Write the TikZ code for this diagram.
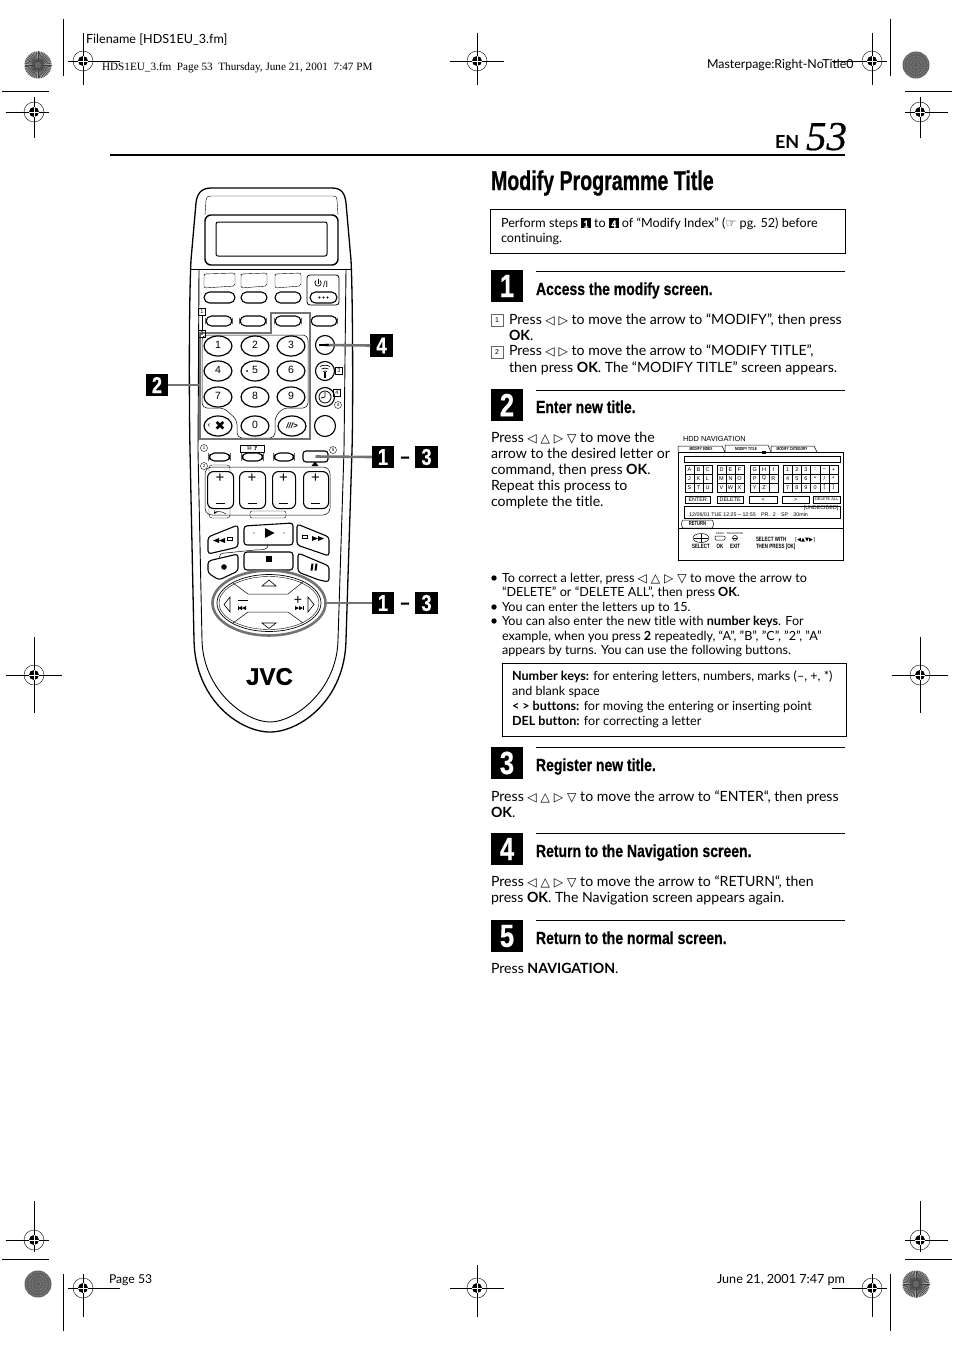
\documentclass[tikz,border=0pt]{standalone}
\usepackage{fontspec}
\usetikzlibrary{shapes.geometric,calc}
\setmainfont[Ligatures={NoCommon}]{Lato}
\newfontfamily\symf{DejaVu Sans}
\newfontfamily\helv{Liberation Sans}
\newfontfamily\timesf{Liberation Serif}
\newfontfamily\headf[FakeStretch=0.8,FakeBold=0.5]{Liberation Sans Bold}
\newfontfamily\titlef[FakeStretch=0.72,FakeBold=0.7]{Liberation Sans Bold}
\newfontfamily\smallhead[FakeStretch=0.72]{Liberation Sans Bold}
\newfontfamily\numf[FakeStretch=0.8,FakeBold=0.5]{Liberation Sans Bold}
\newfontfamily\bigit[FakeBold=0.5]{Liberation Serif Italic}
\newfontfamily\jvcf[FakeBold=0.8]{Liberation Sans Bold}
\newcounter{tc}
\newcommand{\fs}[1]{\fontsize{#1}{#1}\selectfont}
\newcommand{\T}[4][]{\stepcounter{tc}\node[txt,#1] (t\arabic{tc}) at (#2,#3) {#4};}
\newcommand{\sy}[1]{{\symf\fs{12.2}#1}}
\newcommand{\inv}[1]{\raisebox{-.6pt}{\fboxsep=0pt\colorbox{black}{\makebox[9.6pt]{\rule{0pt}{9.6pt}\textcolor{white}{\numf\fs{10}#1}}}}}
\newcommand{\regm}[7]{% x y hl hr vt vb
 \draw[thinl] (#1-#3,#2) -- (#1+#4,#2);
 \draw[thinl] (#1,#2-#5) -- (#1,#2+#6);
 \draw[line width=.4pt] (#1,#2) circle (10);
 \fill (#1,#2) circle (5);
 \draw[white,line width=.8pt] (#1-5,#2) -- (#1+5,#2) (#1,#2-5) -- (#1,#2+5);}
\newcommand{\burst}[2]{\fill[black!35] (#1,#2) circle (13.5);
 \foreach \a in {0,7.5,...,352.5}{\draw[line width=.55pt,black!75] ($(#1,#2)+(\a:3)$) -- ($(#1,#2)+(\a:13.5)$);}
 \fill[black!60] (#1,#2) circle (3);}
\newcommand{\dark}[2]{\fill[black!62] (#1,#2) circle (13.5);
 \foreach \r in {3,6,9,12}{\draw[black!45,line width=.7pt,dash pattern=on 1pt off 1.2pt] (#1,#2) circle (\r);}}
\tikzset{
 txt/.style={anchor=base west,inner sep=0,outer sep=0,font=\fs{12.6}},
 bd/.style={font=\fs{14.1}},
 thinl/.style={line width=.7pt},
 rem/.style={line width=.9pt},
 pill/.style={draw,line width=1.1pt,rounded corners=5.5pt,inner sep=0,outer sep=0},
 numpill/.style={draw,line width=1.2pt,ellipse,minimum width=28,minimum height=20,inner sep=0},
 numlab/.style={inner sep=0,font=\helv\fs{10.5}},
 roundb/.style={draw,line width=1.1pt,circle,minimum size=19,inner sep=0},
 graybar/.style={draw=black!55,line width=2.6pt},
 badge/.style={fill=black,text=white,inner sep=0,outer sep=0,minimum width=22.5,minimum height=22.5,font=\numf\fs{23}},
 bigbadge/.style={fill=black,text=white,inner sep=0,outer sep=0,minimum width=32,minimum height=32,font=\numf\fs{32}},
 head/.style={txt,font=\headf\fs{17.5}},
 rulel/.style={line width=.8pt},
 keyb/.style={draw,line width=.45pt,inner sep=0,minimum height=7},
 gc/.style={inner sep=0,font=\helv\fs{5.5}},
 sq/.style={draw,line width=.5pt,minimum size=7,inner sep=0,font=\helv\fs{5.5}},
 sqb/.style={draw=black!60,line width=.5pt,minimum size=11.5,inner sep=0,font=\helv\fs{7}},
 cir/.style={draw,line width=.4pt,circle,minimum size=7,inner sep=0,font=\helv\fs{4.5}},
}
\begin{document}
\begin{tikzpicture}[x=1pt,y=-1pt]
\useasboundingbox (0,0) rectangle (954,1351);
\fill[white] (0,0) rectangle (954,1351);

% --- printing marks ---
\burst{38}{65}\dark{916}{65}\dark{38}{1284}\burst{916}{1284}
\regm{83}{61}{15}{37}{28}{24}{}
\regm{477}{61}{27}{27}{28}{24}{}
\regm{872}{61}{40}{15}{28}{24}{}
\regm{34}{112}{28}{15}{15}{26}{}
\regm{920}{112}{15}{28}{15}{26}{}
\regm{34}{675}{28}{28}{38}{38}{}
\regm{920}{675}{28}{28}{38}{38}{}
\regm{34}{1240}{28}{15}{39}{12}{}
\regm{920}{1240}{15}{28}{39}{12}{}
\regm{83}{1288}{15}{37}{14}{29}{}
\regm{477}{1288}{27}{27}{23}{29}{}
\regm{872}{1288}{40}{15}{14}{29}{}
\draw[thinl] (63,19) -- (63,76) (890,19) -- (890,76) (63,1274) -- (63,1331) (890,1274) -- (890,1331);
\draw[thinl] (2,91) -- (49,91) (905,91) -- (952,91) (2,1259) -- (49,1259) (905,1259) -- (952,1259);

% --- header and footer ---
\T[font=\fs{12.6}]{86}{44}{Filename [HDS1EU\_3.fm]}
\T[font=\timesf\fs{11.2}]{102}{71}{HDS1EU\_3.fm\ \ Page 53\ \ Thursday, June 21, 2001\ \ 7:47 PM}
\T[font=\fs{12.4}]{707}{69}{Masterpage:Right-NoTitle0}
\T[font=\fs{12.2}]{109}{1283}{Page 53}
\T[font=\fs{12.6},anchor=base east]{845}{1283}{June 21, 2001 7:47 pm}
\draw[line width=2.8pt] (110,155) -- (845,155);
\T[font=\fs{18}\bfseries]{775}{149}{EN}
\T[font=\bigit\fs{41}]{806}{150}{53}
\T[font=\titlef\fs{27.2}]{491}{190}{Modify Programme Title}

% --- intro box ---
\node[draw,line width=.8pt,minimum width=355,minimum height=44,inner sep=0] (intro) at (667.5,231) {};
\T{501}{227}{Perform steps \inv{1} to \inv{4} of “Modify Index” (\sy{☞} pg. 52) before}
\T{501}{242}{continuing.}

% --- section 1 ---
\node[bigbadge] (s1) at (507,286) {1};
\draw[rulel] (536,271) -- (845,271);
\T[head]{536}{295}{Access the modify screen.}
\node[sqb] (n1) at (497,320) {1};
\T[bd]{509}{324}{Press \sy{◁ ▷} to move the arrow to “MODIFY”, then press}
\T[bd]{509}{340}{\textbf{OK}.}
\node[sqb] (n2) at (497,352) {2};
\T[bd]{509}{355}{Press \sy{◁ ▷} to move the arrow to “MODIFY TITLE”,}
\T[bd]{509}{372}{then press \textbf{OK}. The “MODIFY TITLE” screen appears.}

% --- section 2 ---
\node[bigbadge] (s2) at (507,405) {2};
\draw[rulel] (536,390) -- (845,390);
\T[head]{536}{413}{Enter new title.}
\T[bd]{491}{442}{Press \sy{◁ △ ▷ ▽} to move the}
\T[bd]{491}{458}{arrow to the desired letter or}
\T[bd]{491}{474}{command, then press \textbf{OK}.}
\T[bd]{491}{490}{Repeat this process to}
\T[bd]{491}{506}{complete the title.}

% --- screen ---
\T[font=\helv\fs{7.4}]{683}{441}{HDD NAVIGATION}
\draw[line width=.5pt] (678,452) -- (678,446) -- (722,446) -- (725,452);
\draw[line width=.5pt] (725,452) -- (725,445) -- (768,445) -- (771,452);
\draw[line width=.5pt] (771,452) -- (771,446) -- (814,446) -- (817,452);
\node[gc,font=\smallhead\fs{4.4}] (tab1) at (701,449) {MODIFY INDEX};
\node[gc,font=\smallhead\fs{4.4}] (tab2) at (746,449) {MODIFY TITLE};
\node[gc,font=\smallhead\fs{4.4}] (tab3) at (792,449) {MODIFY CATEGORY};
\fill (762,451) -- (766,451) -- (766,454) -- (762,454) -- cycle;
\draw[line width=.6pt] (678,452) rectangle (843,560);
\draw[line width=.6pt] (678,528) -- (843,528);
\draw[line width=.5pt] (684,456) rectangle (840,462);
\foreach \gx/\gw in {685/27,717/27,750/28,783/55}{\draw[line width=.5pt] (\gx,465) rectangle (\gx+\gw,492);}
\foreach \gx/\n in {685/3,717/3,750/3,783/6}{
 \pgfmathsetmacro\st{(\gx==783)?55/6:(\gx==750?28/3:9)}
 \foreach \k in {1,...,5}{\pgfmathparse{\k<\n?1:0}\ifnum\pgfmathresult=1\draw[line width=.35pt] ({\gx+\k*\st},465) -- ({\gx+\k*\st},492);\fi}
 \draw[line width=.35pt] (\gx,474) -- ({\gx+\n*\st},474) (\gx,483) -- ({\gx+\n*\st},483);}
\foreach \c [count=\i] in {A,B,C,J,K,L,S,T,U}{\pgfmathtruncatemacro\cx{mod(\i-1,3)}\pgfmathtruncatemacro\cy{(\i-1)/3}
 \node[gc] (ga\i) at ({689.5+\cx*9},{469.5+\cy*9}) {\c};}
\foreach \c [count=\i] in {D,E,F,M,N,O,V,W,X}{\pgfmathtruncatemacro\cx{mod(\i-1,3)}\pgfmathtruncatemacro\cy{(\i-1)/3}
 \node[gc] (gb\i) at ({721.5+\cx*9},{469.5+\cy*9}) {\c};}
\foreach \c [count=\i] in {G,H,I,P,Q,R,Y,Z,{}}{\pgfmathtruncatemacro\cx{mod(\i-1,3)}\pgfmathtruncatemacro\cy{(\i-1)/3}
 \node[gc] (gc\i) at ({754.7+\cx*9.33},{469.5+\cy*9}) {\c};}
\foreach \c [count=\i] in {1,2,3,:,–,+,4,5,6,•,/,*,7,8,9,0,[,]}{\pgfmathtruncatemacro\cx{mod(\i-1,6)}\pgfmathtruncatemacro\cy{(\i-1)/6}
 \node[gc] (gd\i) at ({787.6+\cx*9.17},{469.5+\cy*9}) {\c};}
\foreach \xa/\xb/\lab/\nm/\sz in {685/710/ENTER/ka/5.4,717/743/DELETE/kb/5.4,749/777/<{}/kc/5.4,782/809/>{}/kd/5.4,813/840/DELETE ALL/ke/3.9}{
 \node[keyb,minimum width=\xb-\xa,anchor=west,font=\helv\fs{\sz}] (\nm) at (\xa,499.5) {\lab};}
\draw[line width=.5pt] (684,506) rectangle (840,518);
\node[gc,anchor=east,font=\helv\fs{5.3}] (und) at (838.5,508.5) {[UNDECIDED]};
\node[gc,anchor=west,font=\helv\fs{5.3}] (inf) at (689,515) {12/06/01 TUE 12:25 – 12:55\quad PR.\ \ 2\quad SP\quad 30min};
\draw[line width=.5pt] (683,520) .. controls (681,522) and (681,526) .. (683,528) -- (712,528) .. controls (714,526) and (714,522) .. (712,520) -- cycle;
\node[gc,font=\smallhead\fs{5.8}] (ret) at (697.5,524) {RETURN};
\node[draw,ellipse,line width=.5pt,minimum width=16,minimum height=9,inner sep=0] (sel) at (701,538) {};
\draw[line width=.5pt] (694,538) -- (708,538) (701,534) -- (701,542);
\node[gc,font=\smallhead\fs{6.2}] (sel2) at (701,546) {SELECT};
\node[draw,rounded corners=1pt,line width=.5pt,minimum width=10,minimum height=4,inner sep=0] (okb) at (720,538) {};
\node[gc,font=\helv\fs{2.7}] (okl) at (720,534) {INDEX};
\node[gc,font=\helv\fs{2.7}] (exl) at (735,534) {NAVIGATION};
\node[gc,font=\smallhead\fs{6.2}] (ok2) at (720,546) {OK};
\node[draw,circle,line width=.5pt,minimum size=5,inner sep=0] (exb) at (735,538) {};
\draw[line width=.5pt] (733,538) -- (737,538);
\node[gc,font=\smallhead\fs{6.2}] (ex2) at (735,546) {EXIT};
\T[font=\smallhead\fs{6.2}]{756}{541}{SELECT WITH}
\T[font=\smallhead\fs{6.2}]{756}{548}{THEN PRESS [OK]}
\T[font=\symf\fs{5.2}]{795}{541}{[◀▲▼▶]}

% --- bullets ---
\foreach \by in {582,611,625}{\fill (494,\by-4) circle (2.7);}
\T{502}{582}{To correct a letter, press \sy{◁ △ ▷ ▽} to move the arrow to}
\T{502}{596}{“DELETE” or “DELETE ALL”, then press \textbf{OK}.}
\T{502}{611}{You can enter the letters up to 15.}
\T{502}{625}{You can also enter the new title with \textbf{number keys}. For}
\T{502}{640}{example, when you press \textbf{2} repeatedly, “A”, ”B”, ”C”, ”2”, ”A”}
\T{502}{654}{appears by turns. You can use the following buttons.}
\node[draw,line width=.8pt,minimum width=344,minimum height=73,inner sep=0] (nbox) at (674,699.5) {};
\T{512}{680}{\textbf{Number keys:} for entering letters, numbers, marks (–, +, *)}
\T{512}{695}{and blank space}
\T{512}{710}{\textbf{< > buttons:} for moving the entering or inserting point}
\T{512}{725}{\textbf{DEL button:} for correcting a letter}

% --- section 3 ---
\node[bigbadge] (s3) at (507,763) {3};
\draw[rulel] (536,747) -- (845,747);
\T[head]{536}{771}{Register new title.}
\T[bd]{491}{801}{Press \sy{◁ △ ▷ ▽} to move the arrow to “ENTER“, then press}
\T[bd]{491}{817}{\textbf{OK}.}
% --- section 4 ---
\node[bigbadge] (s4) at (507,849) {4};
\draw[rulel] (536,833) -- (845,833);
\T[head]{536}{857}{Return to the Navigation screen.}
\T[bd]{491}{886}{Press \sy{◁ △ ▷ ▽} to move the arrow to “RETURN“, then}
\T[bd]{491}{902}{press \textbf{OK}. The Navigation screen appears again.}
% --- section 5 ---
\node[bigbadge] (s5) at (507,936) {5};
\draw[rulel] (536,920) -- (845,920);
\T[head]{536}{944}{Return to the normal screen.}
\T[bd]{491}{973}{Press \textbf{NAVIGATION}.}

% --- remote body ---
\draw[line width=1.3pt] (211,188) -- (332,188) .. controls (342,188) and (345,194) .. (346,203)
 -- (351,260) .. controls (353,300) and (353,420) .. (352,450)
 -- (346,640) .. controls (345,700) and (300,732) .. (270,732)
 .. controls (240,732) and (195,700) .. (194,640)
 -- (190,450) .. controls (189,400) and (189,300) .. (191,260)
 -- (196,203) .. controls (197,194) and (201,188) .. (211,188) -- cycle;
\draw[line width=.9pt] (190,269) -- (352,269);
\draw[rem] (199,269) -- (198,450) -- (202,640) .. controls (203,690) and (245,722) .. (270,722)
 .. controls (295,722) and (337,690) .. (338,640) -- (344,450) -- (346,269);
\draw[line width=.4pt] (205,215) -- (206,200) .. controls (206,197) and (208,196) .. (211,196) -- (333,196) .. controls (336,196) and (337,197) .. (337,200) -- (338,215);
\draw[line width=1.4pt,rounded corners=6pt] (205,215) rectangle (338,265);
\draw[line width=1pt,rounded corners=2pt] (216,222) rectangle (327,256);

\foreach \xa/\xb/\nm in {204/235/ra,241/267/rb,275/301/rc}{
 \draw[line width=.4pt,rounded corners=2pt] (\xa,276) -- (\xa,274) -- (\xb,273) -- (\xb,286) -- (\xa,288) -- cycle;
 \node[pill,minimum width=\xb-\xa,minimum height=11,anchor=west] (\nm) at (\xa,297.5) {};}
\draw[line width=.8pt,rounded corners=3pt] (307,275) rectangle (339,305);
\draw[line width=.7pt] (320.06,280.55) arc[start angle=-50,end angle=230,radius=3.2];
\draw[line width=.7pt] (318,279) -- (318,284);
\T[font=\helv\fs{9}]{323}{287}{/I}
\node[pill,minimum width=27,minimum height=11] (pow) at (323.5,297.5) {};
\foreach \d in {319.5,323.5,327.5}{\fill (\d,297.5) circle (1.1);}
\foreach \xa/\xb/\nm in {206/232/rd,240/266/re,275/301/rf,311/337/rg}{
 \node[pill,minimum width=\xb-\xa,minimum height=10,anchor=west] (\nm) at (\xa,321) {};}

% keypad
\draw[line width=.5pt,rounded corners=5pt] (202,335) -- (308,335) -- (308,408) -- (283,408) -- (275,417) -- (275,438) -- (237,438) -- (237,420) -- (224,408) -- (202,408) -- cycle;
\foreach \l/\px/\py in {1/218/346,2/255/346,3/291/346,4/218/371,5/255/371,6/291/371,7/218/397,8/255/397,9/291/397,0/255/426}{
 \node[numpill] (key\l) at (\px,\py) {};
 \node[numlab] (lab\l) at (\px,\py-1.5) {\l};}
\fill (247,371) circle (1);
\node[numpill] (keyx) at (218,426) {};
\node[font=\symf\fs{13},inner sep=0] (keyxx) at (220,426) {✖};
\node[inner sep=0,font=\helv\fs{8}] (keyxl) at (209,426) {‹};
\node[numpill] (keys) at (292,426) {};
\node[inner sep=0,font=\helv\bfseries\itshape\fs{8}] (keysl) at (292,426) {///>};
\draw[graybar] (271,313) -- (310,313) -- (310,439) -- (200,439) -- (200,333) -- (271,333) -- cycle;

\node[roundb] (btn4) at (325,345) {};
\node[roundb] (btnw) at (325,371) {};
\draw[line width=.7pt] (320,366.5) .. controls (323,364.8) and (327,364.8) .. (330,366.5)
 (321.5,369) .. controls (323.5,367.8) and (326.5,367.8) .. (328.5,369)
 (323,371.5) .. controls (324,370.8) and (326,370.8) .. (327,371.5);
\draw[line width=1.3pt] (325,372) -- (325,378);
\node[roundb] (btnc) at (325,397) {};
\draw[line width=.8pt] (325,397) circle (6) (325,392) -- (325,397) -- (321,398);
\node[roundb,minimum size=21] (btnp) at (325,426) {};
\node[sq] (l3) at (339,371) {3};
\node[sq] (l4) at (337,393) {4};
\node[cir] (c4) at (338,405) {4};
\node[sq] (l1) at (202,312) {1};
\node[sq,draw=black] (l2) at (202,334) {2};
\draw[line width=.4pt] (l1) -- (l2);

% second row
\node[pill,minimum width=21,minimum height=8] (q1) at (219.5,457) {};
\node[pill,minimum width=21,minimum height=8] (q2) at (252.5,457) {};
\node[pill,minimum width=20,minimum height=8] (q3) at (284,457) {};
\node[pill,rounded corners=3pt,minimum width=25,minimum height=11] (q4) at (315.5,456.5) {};
\node[cir] (c1) at (204,448) {1};
\node[cir] (c2) at (204,466) {2};
\node[cir] (c5) at (333,450) {5};
\T[font=\symf\fs{6},anchor=base]{252}{450}{⑩\ \textbf{?}}
\draw[line width=.3pt] (240,445) rectangle (264,452);
\fill (315,461.5) -- (318.5,466) -- (311.5,466) -- cycle;
% volume box
\draw[line width=.5pt,rounded corners=7pt] (205,467) rectangle (330,515);
\draw[line width=.4pt,rounded corners=3pt] (209,471) -- (209,465) -- (230,465) -- (230,471);
\draw[line width=.4pt,rounded corners=3pt] (209,507) -- (209,518) -- (230,518) -- (230,507);
\foreach \xa/\xb/\nm in {207/233/va,239/265/vb,272/295/vc,303/328/vd}{
 \node[draw,line width=1.1pt,rounded corners=6pt,inner sep=0,minimum width=\xb-\xa,minimum height=37,anchor=north west] (\nm) at (\xa,471) {};
 \node[inner sep=0,font=\helv\fs{15}] (\nm p) at ({(\xa+\xb)/2},478) {+};
 \draw[line width=.7pt] ({(\xa+\xb)/2-4.5},503) -- ({(\xa+\xb)/2+4.5},503);}
\draw[line width=.4pt,rounded corners=2pt] (250,511) rectangle (286,518);
\draw[line width=.5pt,->,>=stealth] (226,514) .. controls (222,511) and (216,511) .. (214,514);

% transport
\draw[line width=1.1pt,rounded corners=3pt] (208,537) -- (238,525) -- (238,547) -- (208,554) -- cycle;
\draw[line width=1.1pt,rounded corners=3pt] (244,526) -- (293,523) -- (293,545) -- (244,545) -- cycle;
\draw[line width=1.1pt,rounded corners=3pt] (297,524) -- (329,537) -- (329,556) -- (297,545) -- cycle;
\draw[line width=1.1pt,rounded corners=3pt] (208,561) -- (238,554) -- (238,571) -- (219,580) -- (208,573) -- cycle;
\draw[line width=1.1pt,rounded corners=3pt] (244,552) -- (293,552) -- (293,570) -- (244,570) -- cycle;
\draw[line width=1.1pt,rounded corners=3pt] (298,553) -- (329,566) -- (329,582) -- (319,580) -- (298,572) -- cycle;
\draw[line width=.5pt] (268,545) .. controls (268,550) and (262,550) .. (255,550) -- (225,553) .. controls (221,553) and (219,555) .. (219,558);
\fill (265,528) -- (274.5,533) -- (265,538) -- cycle;
\fill (254,533) circle (.6) (284,533) circle (.6);
\fill (266,556) rectangle (272,562);
\fill (224,567) circle (2.8);
\fill (311.5,563.5) -- (313.5,563.5) -- (312.5,570.5) -- (310.5,570.5) -- cycle (315.5,563.5) -- (317.5,563.5) -- (316.5,570.5) -- (314.5,570.5) -- cycle;
\fill (219,543) -- (213,540.5) -- (219,538) -- cycle (225,543) -- (219,540.5) -- (225,538) -- cycle;
\fill (312,536) -- (318,538.5) -- (312,541) -- cycle (318,536) -- (324,538.5) -- (318,541) -- cycle;
\node[draw,line width=.4pt,minimum width=5,minimum height=3,inner sep=0] (ri) at (230,538.5) {};
\node[draw,line width=.4pt,minimum width=5,minimum height=3,inner sep=0] (fi) at (305,537) {};

% oval
\node[draw=black!55,line width=2.6pt,ellipse,minimum width=113,minimum height=65,inner sep=0] (oval) at (269,603) {};
\node[draw,line width=.7pt,ellipse,minimum width=104,minimum height=57,inner sep=0] (ov1) at (269,603) {};
\node[draw,line width=.4pt,ellipse,minimum width=100,minimum height=53,inner sep=0] (ov2) at (269,603) {};
\draw[line width=.5pt] (233,583) -- (248,594) -- (288,594) -- (303,582);
\draw[line width=.5pt] (233,623) -- (248,612) -- (288,612) -- (303,623);
\draw[line width=.6pt] (262,586) -- (269,580) -- (276,586) -- cycle;
\draw[line width=.6pt] (262,623) -- (276,623) -- (269,628.5) -- cycle;
\draw[line width=.6pt] (230,597) -- (224,604.5) -- (230,612) -- cycle;
\draw[line width=.6pt] (308,597) -- (314,604.5) -- (308,612) -- cycle;
\draw[line width=.8pt] (238,600) -- (248,600);
\node[inner sep=0,font=\helv\fs{14}] (plusn) at (298,600) {+};
\fill (238,608) -- (242,606) -- (242,610) -- cycle (242,608) -- (246,606) -- (246,610) -- cycle;
\draw[line width=.6pt] (238,606) -- (238,610) (303,606) -- (303,610);
\fill (303,608) -- (299,606) -- (299,610) -- cycle (299,608) -- (295,606) -- (295,610) -- cycle;

\node[inner sep=0,font=\jvcf\fs{24}] (jvc) at (269.5,676.5) {JVC};

% badges and connectors
\node[badge] (b2) at (157,385) {2};
\node[badge] (b4) at (381.5,345.5) {4};
\node[badge] (ba1) at (383,457) {1};
\node[badge] (ba3) at (426.5,457) {3};
\node[badge] (bb1) at (383,603) {1};
\node[badge] (bb3) at (426.5,603) {3};
\T[font=\numf\fs{20},anchor=base]{405}{463}{–}
\T[font=\numf\fs{20},anchor=base]{405}{609}{–}
\coordinate (padl) at (200,385);
\draw[graybar] (b2.east) -- (padl);
\draw[graybar] (btn4.center) -- (b4.west);
\draw[line width=2.5pt] (319,345) -- (329,345);
\draw[graybar] (q4.center) -- (ba1.west);
\draw[graybar] (oval.east) -- (bb1.west);
\end{tikzpicture}
\end{document}
